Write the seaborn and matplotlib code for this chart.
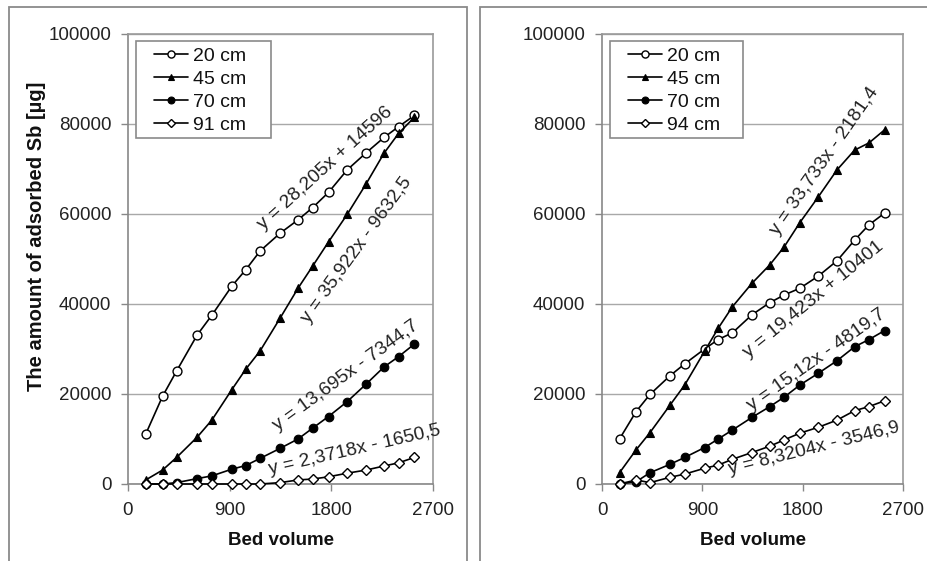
import matplotlib
matplotlib.use("Agg")
import matplotlib.pyplot as plt
import seaborn as sns
import pandas as pd
from matplotlib.patches import Rectangle

# ---------------- data ----------------
bed_volume = [157, 306, 430, 612, 742, 920, 1042, 1170, 1345, 1505, 1634, 1775, 1940, 2108, 2266, 2395, 2535]

left_labels = ["20 cm", "45 cm", "70 cm", "91 cm"]
left_20 = [11100, 19500, 25100, 33100, 37500, 44000, 47600, 51800, 55700, 58700, 61400, 64800, 69800, 73600, 77000, 79400, 81900]
left_45 = [900, 3100, 5900, 10400, 14200, 21000, 25500, 29600, 36800, 43500, 48400, 53800, 59900, 66700, 73500, 77900, 81500]
left_70 = [0, 0, 300, 1200, 1800, 3300, 4100, 5700, 7900, 10000, 12400, 15000, 18300, 22200, 26000, 28300, 31100]
left_91 = [0, 0, 0, 0, 0, 0, 0, 0, 300, 900, 1100, 1600, 2400, 3100, 4000, 4700, 5900]

right_labels = ["20 cm", "45 cm", "70 cm", "94 cm"]
right_20 = [10000, 16100, 19900, 24100, 26700, 30000, 32100, 33600, 37600, 40300, 42000, 43500, 46200, 49600, 54200, 57600, 60200]
right_45 = [2500, 7600, 11400, 17600, 22000, 29500, 34600, 39400, 44600, 48700, 52700, 58100, 63800, 69800, 74200, 75800, 78700]
right_70 = [0, 500, 2500, 4400, 5900, 8100, 10000, 12000, 14800, 17200, 19300, 22000, 24600, 27400, 30500, 32100, 34100]
right_94 = [0, 900, 300, 1500, 2200, 3500, 4200, 5500, 7000, 8400, 9800, 11300, 12600, 14200, 16300, 17200, 18500]

left_eqs = ["y = 28,205x + 14596", "y = 35,922x - 9632,5", "y = 13,695x - 7344,7", "y = 2,3718x - 1650,5"]
right_eqs = ["y = 19,423x + 10401", "y = 33,733x - 2181,4", "y = 15,12x - 4819,7", "y = 8,3204x - 3546,9"]

x_ticks = [0, 900, 1800, 2700]
y_ticks = [0, 20000, 40000, 60000, 80000, 100000]
x_label = "Bed volume"
y_label = "The amount of adsorbed Sb [µg]"

# ---------------- style ----------------
sns.set_theme(style="white")
plt.rcParams["font.family"] = ["Liberation Sans", "DejaVu Sans"]

W, H = 927, 561
fig = plt.figure(figsize=(W / 100, H / 100), dpi=100)

def px_ax(x0, x1, y0, y1):
    return fig.add_axes([x0 / W, 1 - y1 / H, (x1 - x0) / W, (y1 - y0) / H])

axL = px_ax(128, 433, 34, 484)
axR = px_ax(602, 903, 34, 484)

# outer panel frames
frame_col = "#8a8a8a"
fig.patches.append(Rectangle((9 / W, -0.1), (467 - 9) / W, 1.1 - 7 / H,
                             transform=fig.transFigure, fill=False, ec=frame_col, lw=1.3))
fig.patches.append(Rectangle((480 / W, -0.1), 0.6, 1.1 - 7 / H,
                             transform=fig.transFigure, fill=False, ec=frame_col, lw=1.3))

styles = [
    dict(marker="o", markersize=6.4, markerfacecolor="white", markeredgecolor="black", markeredgewidth=1.0),
    dict(marker="^", markersize=5.6, markerfacecolor="black", markeredgecolor="black", markeredgewidth=0.8),
    dict(marker="o", markersize=6.2, markerfacecolor="black", markeredgecolor="black", markeredgewidth=0.8),
    dict(marker="D", markersize=5.5, markerfacecolor="white", markeredgecolor="black", markeredgewidth=1.0),
]

def draw(ax, series, labels, eqs, eq_pos, show_ylabel):
    for ys, lab, st in zip(series, labels, styles):
        df = pd.DataFrame({"bv": bed_volume, "sb": ys})
        sns.lineplot(data=df, x="bv", y="sb", ax=ax, color="black", lw=1.2,
                     label=lab, sort=False, clip_on=False, zorder=3, **st)
    ax.set_xlim(0, 2700)
    ax.set_ylim(0, 100000)
    ax.set_xticks(x_ticks)
    ax.set_yticks(y_ticks)
    ax.set_xticklabels([str(t) for t in x_ticks])
    ax.set_yticklabels([str(t) for t in y_ticks])
    ax.tick_params(axis="both", which="major", labelsize=13.5, labelcolor="#222222",
                   direction="out", length=5, width=1.0, color="#888888",
                   left=True, bottom=True)
    ax.tick_params(axis="y", pad=7)
    ax.tick_params(axis="x", pad=8)
    for s in ax.spines.values():
        s.set_color("#9a9a9a")
        s.set_linewidth(1.2)
        s.set_visible(True)
    ax.spines["left"].set_color("#888888")
    ax.spines["bottom"].set_color("#888888")
    ax.yaxis.grid(True, color="#a8a8a8", lw=1.0)
    ax.xaxis.grid(False)
    ax.set_axisbelow(True)
    ax.set_xlabel(x_label, fontsize=13.5, fontweight="bold", color="#111111")
    ax.xaxis.set_label_coords(0.5, -0.125)
    ax.xaxis.label.set_va("center")
    if show_ylabel:
        ax.set_ylabel(y_label, fontsize=14.5, fontweight="bold", color="#111111", va="center")
        ax.yaxis.set_label_coords(-0.30, 0.55)
    else:
        ax.set_ylabel("")
    for txt, (xc, yc, ang) in zip(eqs, eq_pos):
        ax.text(xc, yc, txt, rotation=ang, rotation_mode="anchor", ha="center", va="center",
                fontsize=13.8, color="#222222", clip_on=False, zorder=4)
    leg = ax.legend(loc="upper left", bbox_to_anchor=(0.086, 0.971), frameon=False,
                    fontsize=14, handlelength=1.75, handletextpad=0.25, labelspacing=0.28,
                    borderpad=0.0, borderaxespad=0.0, markerscale=0.8)
    for t in leg.get_texts():
        t.set_color("#111111")
    ax.add_patch(Rectangle((0.025, 0.770), 0.443, 0.214, transform=ax.transAxes,
                           fill=True, fc="white", ec="#8a8a8a", lw=1.2, zorder=4.5))
    leg.set_zorder(5)

draw(axL, [left_20, left_45, left_70, left_91], left_labels, left_eqs,
     [(1744, 70200, 42), (2027, 52000, 54), (1930, 24200, 36), (2009, 7550, 13)], True)
draw(axR, [right_20, right_45, right_70, right_94], right_labels, right_eqs,
     [(1893, 41100, 39), (2000, 71800, 55), (1929, 27550, 35), (1902, 7800, 14)], False)

fig.savefig("out.png", dpi=100)
